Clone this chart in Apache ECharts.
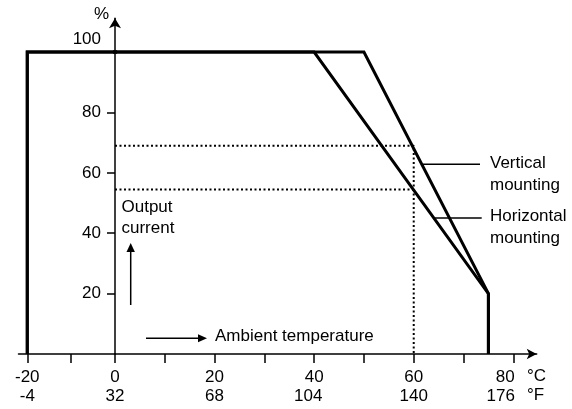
<!DOCTYPE html>
<html>
<head>
<meta charset="utf-8">
<script src="https://cdn.jsdelivr.net/npm/echarts@6/dist/echarts.min.js"></script>
<style>
html,body{margin:0;padding:0;background:#fff;}
#chart{width:572px;height:409px;}
</style>
</head>
<body>
<div id="chart"></div>
<script>
// ---- data ----
const celsiusLabels = [-20, 0, 20, 40, 60, 80];
const fahrenheitLabels = [-4, 32, 68, 104, 140, 176];
const xTickValuesLeft = [-20, -10];
const xTickValuesRight = [0, 10, 20, 30, 40, 50, 60, 70, 80];
const yTickValues = [20, 40, 60, 80, 100];

// Horizontal mounting derating curve
const tempHorizontal = [-20, -20, 40, 75, 75];
const currentHorizontal = [0, 100, 100, 20, 0];
// Vertical mounting derating curve
const tempVertical = [-20, -20, 50, 75, 75];
const currentVertical = [0, 100, 100, 20, 0];

// dotted reading lines at 60 °C
const markTemp = 60;
const markVertical = 69;
const markHorizontal = 54.5;

// ---- chart ----
const FONT = "'Liberation Sans', Arial, sans-serif";
const pair = (xs, ys) => xs.map((x, i) => [x, ys[i]]);

const chart = echarts.init(document.getElementById('chart'), null, {renderer: 'canvas'});

function xLabelFormatter(v) {
  const i = celsiusLabels.indexOf(v);
  if (i < 0) return '';
  const c = celsiusLabels[i], f = fahrenheitLabels[i];
  if (c === 80) return '{a|' + c + '}\n{b|' + f + '}';
  if (c === 40) return '{n|' + c + '}\n{d|' + f + '}';
  return '{n|' + c + '}\n{n|' + f + '}';
}
const labelRich = {
  n: {fontSize: 17, fontFamily: FONT, color: '#000', lineHeight: 19},
  a: {fontSize: 17, fontFamily: FONT, color: '#000', lineHeight: 19, padding: [0, 16, 0, 0]},
  b: {fontSize: 17, fontFamily: FONT, color: '#000', lineHeight: 19, padding: [0, 25, 0, 0]},
  d: {fontSize: 17, fontFamily: FONT, color: '#000', lineHeight: 19, padding: [0, 12, 0, 0]}
};

const yMax = 111.2;
const gridTop = 18.3, gridH = 335.7;

const axisLineStyle = {color: '#000', width: 1.5};

function curveSeries(xAxisIndex, xs, ys) {
  return {
    type: 'line', xAxisIndex: xAxisIndex, yAxisIndex: xAxisIndex,
    data: pair(xs, ys), symbol: 'none', silent: true, animation: false,
    lineStyle: {color: '#000', width: 3, join: 'miter'}
  };
}
function dottedSeries(pts) {
  return {
    type: 'line', xAxisIndex: 1, yAxisIndex: 1, data: pts, symbol: 'none',
    silent: true, animation: false,
    lineStyle: {color: '#000', width: 2, type: [2, 2.5]}
  };
}

const option = {
  backgroundColor: '#fff',
  animation: false,
  grid: [
    {left: 18.5, width: 96.5, top: gridTop, height: gridH},
    {left: 115, width: 421.7, top: gridTop, height: gridH}
  ],
  xAxis: [
    {
      gridIndex: 0, type: 'value', min: -22, max: 0,
      axisLine: {show: true, onZero: false, lineStyle: axisLineStyle},
      axisTick: {show: true, customValues: xTickValuesLeft, length: 9, lineStyle: {color: '#000', width: 1.5}},
      axisLabel: {show: true, customValues: [-20], margin: 13.5, formatter: xLabelFormatter, rich: labelRich},
      splitLine: {show: false}
    },
    {
      gridIndex: 1, type: 'value', min: 0, max: 84.7,
      axisLine: {show: true, onZero: false, lineStyle: axisLineStyle, symbol: ['none', 'arrow'], symbolSize: [8, 10]},
      axisTick: {show: true, customValues: xTickValuesRight, length: 9, lineStyle: {color: '#000', width: 1.5}},
      axisLabel: {show: true, customValues: celsiusLabels.filter(v => v >= 0), margin: 13.5, formatter: xLabelFormatter, rich: labelRich},
      splitLine: {show: false}
    }
  ],
  yAxis: [
    {gridIndex: 0, type: 'value', min: 0, max: yMax, show: false, splitLine: {show: false}},
    {
      gridIndex: 1, type: 'value', min: 0, max: yMax,
      axisLine: {show: true, onZero: false, lineStyle: axisLineStyle, symbol: ['none', 'arrow'], symbolSize: [9, 10]},
      axisTick: {show: true, customValues: yTickValues, length: 8, lineStyle: {color: '#000', width: 1.5}},
      axisLabel: {
        show: true, customValues: yTickValues, margin: 14,
        formatter: v => (v === 100 ? '{t|' + v + '}' : '{n|' + v + '}'),
        rich: {
          n: {fontSize: 17, fontFamily: FONT, color: '#000'},
          t: {fontSize: 17, fontFamily: FONT, color: '#000', padding: [0, 0, 26, 0]}
        }
      },
      splitLine: {show: false}
    }
  ],
  series: [
    curveSeries(0, tempHorizontal, currentHorizontal),
    curveSeries(0, tempVertical, currentVertical),
    dottedSeries([[0, markVertical], [markTemp, markVertical], [markTemp, 0]]),
    dottedSeries([[0, markHorizontal], [markTemp, markHorizontal]]),
    curveSeries(1, tempHorizontal, currentHorizontal),
    curveSeries(1, tempVertical, currentVertical)
  ],
  graphic: [
    {type: 'text', left: 94, top: 6, style: {text: '%', font: '17px ' + FONT, fill: '#000'}},
    {type: 'text', left: 527, top: 367.5, style: {text: '°C', font: '17px ' + FONT, fill: '#000'}},
    {type: 'text', left: 527, top: 386.5, style: {text: '°F', font: '17px ' + FONT, fill: '#000'}},
    // Output current annotation
    {type: 'text', left: 121.5, top: 197, style: {text: 'Output\ncurrent', font: '17px ' + FONT, fill: '#000', lineHeight: 21}},
    {type: 'line', shape: {x1: 130.7, y1: 305, x2: 130.7, y2: 250}, style: {stroke: '#000', lineWidth: 1.5}},
    {type: 'polygon', shape: {points: [[130.7, 243], [126.5, 252], [134.9, 252]]}, style: {fill: '#000'}},
    // Ambient temperature annotation
    {type: 'line', shape: {x1: 146, y1: 338.3, x2: 200, y2: 338.3}, style: {stroke: '#000', lineWidth: 1.5}},
    {type: 'polygon', shape: {points: [[207, 338.3], [198, 334.3], [198, 342.3]]}, style: {fill: '#000'}},
    {type: 'text', left: 215, top: 328, style: {text: 'Ambient temperature', font: '17px ' + FONT, fill: '#000'}},
    // curve labels
    {type: 'line', shape: {x1: 423, y1: 164.3, x2: 480, y2: 164.3}, style: {stroke: '#000', lineWidth: 1.5}},
    {type: 'text', left: 490, top: 152, style: {text: 'Vertical\nmounting', font: '17px ' + FONT, fill: '#000', lineHeight: 22}},
    {type: 'line', shape: {x1: 434, y1: 218, x2: 481.7, y2: 218}, style: {stroke: '#000', lineWidth: 1.5}},
    {type: 'text', left: 490, top: 205, style: {text: 'Horizontal\nmounting', font: '17px ' + FONT, fill: '#000', lineHeight: 22}}
  ]
};
chart.setOption(option);
</script>
</body>
</html>
